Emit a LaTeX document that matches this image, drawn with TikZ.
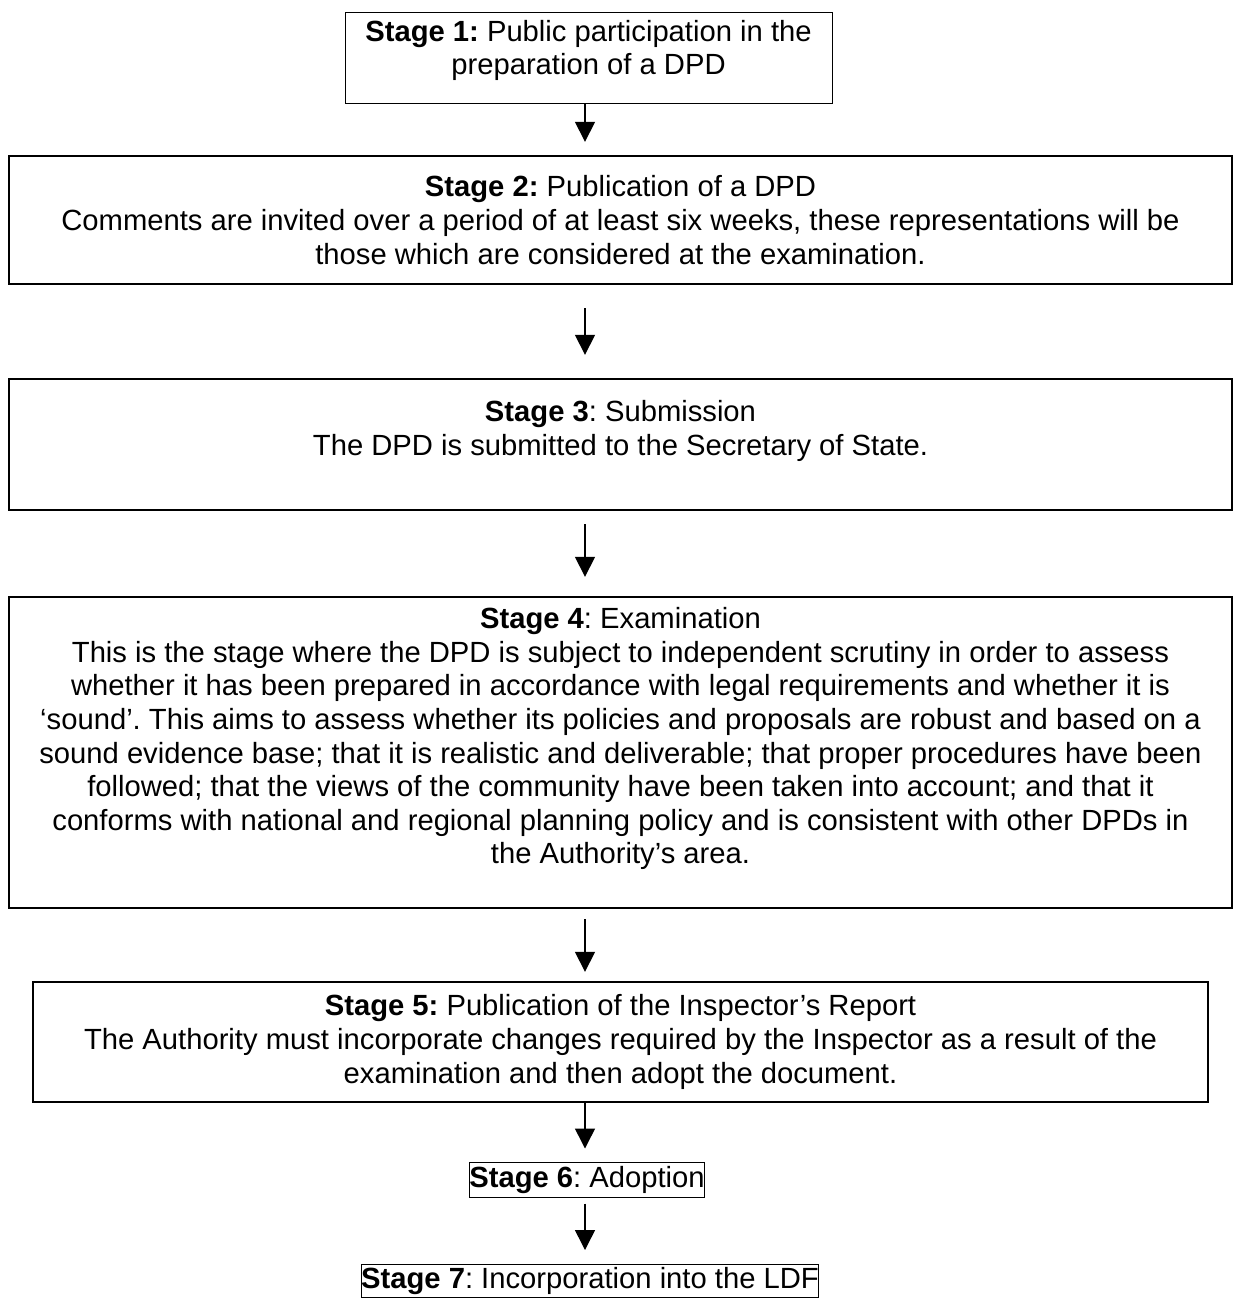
\documentclass[tikz,border=0pt]{standalone}
\usepackage{fontspec}
\setmainfont{Liberation Sans}
\usetikzlibrary{arrows.meta}
\tikzset{
  stagebox/.style={draw, line width=1.2pt, align=center, inner sep=0pt,
    font=\fontsize{14.6}{16.8}\selectfont\frenchspacing},
  thinbox/.style={draw, line width=0.5pt, align=center, inner sep=0pt,
    font=\fontsize{14.6}{16.8}\selectfont\frenchspacing},
  flow/.style={line width=0.75pt, -{Triangle[width=10pt,length=10pt]}}
}
\begin{document}
\begin{tikzpicture}[x=0.5pt, y=-0.5pt]
\useasboundingbox (0,0) rectangle (1234,1298);
\coordinate (axis) at (585, 0);
\node[thinbox, minimum width=243.5pt, minimum height=45.5pt](s1) at (588.5, 57.5)
  {\textbf{Stage 1:} Public participation in the\\ preparation of a DPD\\[-6.8pt]\mbox{}};
\node[stagebox, minimum width=611.5pt, minimum height=64pt](s2) at (620.5, 220)
  {\textbf{Stage 2:} Publication of a DPD\\
   Comments are invited over a period of at least six weeks, these representations will be\\
   those which are considered at the examination.};
\node[stagebox, minimum width=611.5pt, minimum height=65.5pt](s3) at (620.5, 444.5)
  {\textbf{Stage 3}: Submission\\
   The DPD is submitted to the Secretary of State.\\ \mbox{}};
\node[stagebox, minimum width=611.5pt, minimum height=155.5pt](s4) at (620.5, 752.5)
  {\textbf{Stage 4}: Examination\\
   This is the stage where the DPD is subject to independent scrutiny in order to assess\\
   whether it has been prepared in accordance with legal requirements and whether it is\\
   ‘sound’. This aims to assess whether its policies and proposals are robust and based on a\\
   sound evidence base; that it is realistic and deliverable; that proper procedures have been\\
   followed; that the views of the community have been taken into account; and that it\\
   conforms with national and regional planning policy and is consistent with other DPDs in\\
   the Authority’s area.\\ \mbox{}};
\node[stagebox, minimum width=587.5pt, minimum height=60pt](s5) at (620.5, 1042)
  {\textbf{Stage 5:} Publication of the Inspector’s Report\\
   The Authority must incorporate changes required by the Inspector as a result of the\\
   examination and then adopt the document.};
\node[thinbox, minimum height=17.5pt](s6) at (587, 1179.5)
  {\textbf{Stage 6}: Adoption};
\node[thinbox, minimum height=16.5pt](s7) at (590, 1281)
  {\textbf{Stage 7}: Incorporation into the LDF};
% connectors
\draw[flow, shorten >=6.5pt] (axis |- s1.south) -- (axis |- s2.north);
\draw[flow, shorten <=11.5pt, shorten >=11.5pt] (axis |- s2.south) -- (axis |- s3.north);
\draw[flow, shorten <=6.5pt, shorten >=9.5pt] (axis |- s3.south) -- (axis |- s4.north);
\draw[flow, shorten <=5pt, shorten >=4.5pt] (axis |- s4.south) -- (axis |- s5.north);
\draw[flow, shorten >=6.5pt] (axis |- s5.south) -- (axis |- s6.north);
\draw[flow, shorten <=3pt, shorten >=7pt] (axis |- s6.south) -- (axis |- s7.north);
\end{tikzpicture}
\end{document}
